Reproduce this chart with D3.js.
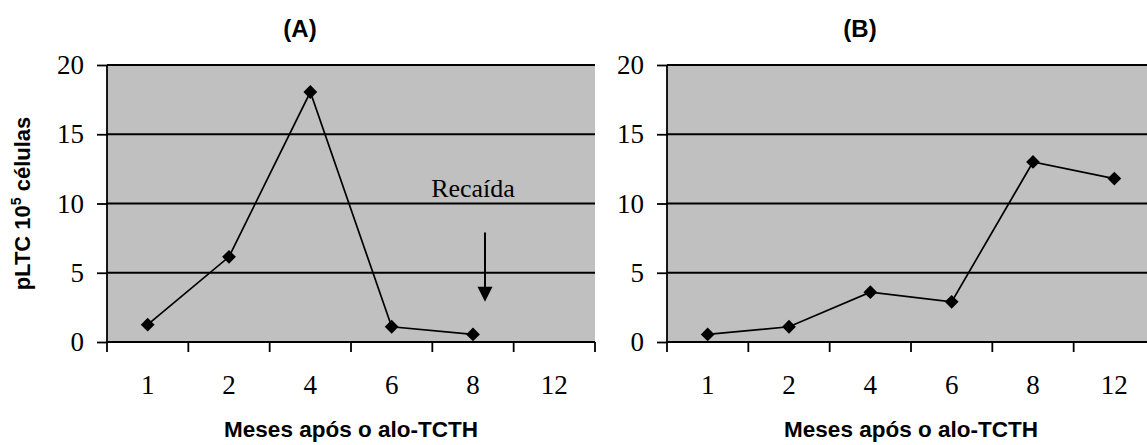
<!DOCTYPE html>
<html>
<head>
<meta charset="utf-8">
<script src="https://cdn.jsdelivr.net/npm/d3@7"></script>
<style>
  body { margin: 0; background: #fff; }
  .serif { font-family: "Liberation Serif", "Times New Roman", serif; }
  .bold { font-family: "Liberation Sans", Arial, sans-serif; font-weight: bold; }
</style>
</head>
<body>
<svg id="chart" width="1147" height="445"></svg>
<script>
// months after transplant (categories) and pLTC per 10^5 cells
var months = ["1", "2", "4", "6", "8", "12"];
var valuesA = [1.25, 6.15, 18.05, 1.1, 0.55, null];
var valuesB = [0.55, 1.1, 3.6, 2.9, 13.0, 11.8];
var yTicks = [0, 5, 10, 15, 20];
var titles = ["(A)", "(B)"];
// relapse annotation on panel A
var relapse = { month: "8", label: "Recaída", labelY: 10.5, from: 7.9, to: 2.9 };

var svg = d3.select("#chart");
var plotW = 488, plotH = 277, plotTop = 65;
var panels = [
  { left: 107, values: valuesA, title: titles[0], note: true },
  { left: 667, values: valuesB, title: titles[1], note: false }
];

var y = d3.scaleLinear().domain([0, 20]).range([plotH, 0]);
var x = d3.scaleBand().domain(months).range([0, plotW]);
var bw = x.bandwidth();

panels.forEach(function (p) {
  var g = svg.append("g").attr("transform", "translate(" + p.left + "," + plotTop + ")");

  g.append("rect")
    .attr("width", plotW).attr("height", plotH)
    .attr("fill", "#c0c0c0");

  // gridlines
  g.selectAll(".grid").data(yTicks.slice(1)).enter().append("line")
    .attr("x1", 0).attr("x2", plotW)
    .attr("y1", d => y(d)).attr("y2", d => y(d))
    .attr("stroke", "#000").attr("stroke-width", 1.8);

  // y axis
  var yAxis = g.append("g").call(d3.axisLeft(y).tickValues(yTicks).tickSize(10).tickPadding(13));
  yAxis.select(".domain").remove();
  yAxis.selectAll(".tick line").attr("stroke-width", 1.8);
  yAxis.selectAll(".tick text").attr("class", "serif").attr("font-size", 27).attr("fill", "#000");
  g.append("line").attr("x1", 0).attr("x2", 0).attr("y1", 0).attr("y2", plotH + 10)
    .attr("stroke", "#000").attr("stroke-width", 1.8);

  // x axis line and boundary ticks
  g.append("line").attr("x1", 0).attr("x2", plotW).attr("y1", plotH).attr("y2", plotH)
    .attr("stroke", "#000").attr("stroke-width", 1.8);
  var edges = months.map(m => x(m) + bw);
  g.selectAll(".xt").data(edges).enter().append("line")
    .attr("x1", d => d).attr("x2", d => d)
    .attr("y1", plotH).attr("y2", plotH + 10)
    .attr("stroke", "#000").attr("stroke-width", 1.8);
  g.selectAll(".xl").data(months).enter().append("text")
    .attr("class", "serif")
    .attr("x", d => x(d) + bw / 2).attr("y", plotH + 52)
    .attr("text-anchor", "middle")
    .attr("font-size", 27)
    .text(d => d);

  // line + diamonds
  var pts = months.map((m, i) => ({ m: m, v: p.values[i] })).filter(d => d.v != null);
  var line = d3.line().x(d => x(d.m) + bw / 2).y(d => y(d.v));
  g.append("path").datum(pts).attr("d", line)
    .attr("fill", "none").attr("stroke", "#000").attr("stroke-width", 1.7);
  g.selectAll(".pt").data(pts).enter().append("path")
    .attr("d", d3.symbol(d3.symbolSquare, 95))
    .attr("transform", d => "translate(" + (x(d.m) + bw / 2) + "," + y(d.v) + ") rotate(45)")
    .attr("fill", "#000");

  // titles
  g.append("text").attr("class", "bold")
    .attr("x", plotW / 2 - 51).attr("y", -28)
    .attr("text-anchor", "middle").attr("font-size", 24)
    .text(p.title);
  g.append("text").attr("class", "bold")
    .attr("x", plotW / 2).attr("y", plotH + 95)
    .attr("text-anchor", "middle").attr("font-size", 22.5)
    .text("Meses após o alo-TCTH");

  if (p.note) {
    var ax = x(relapse.month) + bw / 2 + 12;
    g.append("text").attr("class", "serif")
      .attr("x", x(relapse.month) + bw / 2).attr("y", y(relapse.labelY))
      .attr("text-anchor", "middle")
      .attr("font-size", 26)
      .text(relapse.label);
    g.append("line")
      .attr("x1", ax).attr("x2", ax)
      .attr("y1", y(relapse.from)).attr("y2", y(relapse.to) - 14)
      .attr("stroke", "#000").attr("stroke-width", 2);
    g.append("path")
      .attr("d", "M" + (ax - 7.5) + "," + (y(relapse.to) - 15) + "L" + (ax + 7.5) + "," + (y(relapse.to) - 15) + "L" + ax + "," + y(relapse.to) + "Z")
      .attr("fill", "#000");

    // y axis title
    g.append("text").attr("class", "bold")
      .attr("transform", "translate(-77," + (plotH / 2) + ") rotate(-90)")
      .attr("text-anchor", "middle").attr("font-size", 22)
      .html("pLTC 10<tspan dy='-9' font-size='14'>5</tspan><tspan dy='9'> células</tspan>");
  }
});
</script>
</body>
</html>
